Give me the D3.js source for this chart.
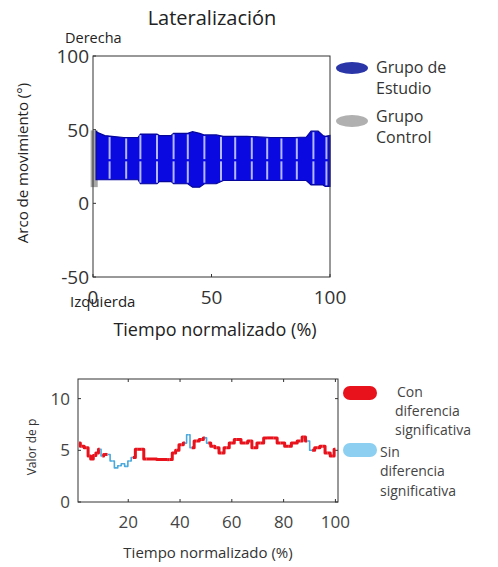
<!DOCTYPE html>
<html>
<head>
<meta charset="utf-8">
<script src="https://cdn.jsdelivr.net/npm/d3@7"></script>
<style>
  body { margin: 0; background: #fff; }
  text { font-family: "Open Sans", "DejaVu Sans", sans-serif; }
</style>
</head>
<body>
<svg id="chart" width="498" height="567"></svg>
<script>
/* --- data: top panel (bands, % of cycle -> degrees) --- */
var bandX     = [1.3, 2, 5, 8, 13, 19, 20, 27, 28, 33, 34, 40, 42, 45, 47, 52, 55, 65, 75, 85, 90, 92, 95, 97, 98, 100];
var studyHigh = [49, 48, 46, 45.5, 44.7, 44.7, 47, 47, 46, 46, 47.5, 47.5, 48.6, 47.5, 46.4, 46.4, 45.5, 45.5, 44.7, 44.7, 45, 49, 49, 46, 45.5, 46];
var studyLow  = [16, 16, 16, 16, 16, 16, 13.3, 13.3, 14.8, 14.8, 13.3, 13.3, 11, 11, 13.3, 13.3, 15.5, 15.5, 15.5, 15.5, 15.5, 12.5, 12.5, 12.5, 11.5, 11.5];
var controlX    = [-1, 2];
var controlHigh = [49.5, 49.5];
var controlLow  = [11, 11];
var gridLines = [7, 14, 20, 27, 34, 40, 47, 54, 60, 67, 73.5, 79.5, 86, 93, 98.5];

/* --- data: bottom panel (p value trace) --- */
var pX   = [1, 2, 4, 5, 6, 7, 8, 9, 10, 11, 12, 14, 15.3, 16.6, 18, 19.2, 20.5, 21.8, 23.7, 25, 27, 35, 36, 38, 38.6, 40.6, 41.9, 43.2, 44.5, 46.4, 48.4, 49.6, 50.9, 52.8, 54.1, 56, 58, 60, 61.9, 65.2, 67.1, 68.4, 71, 73.6, 76.2, 78.8, 82, 84, 86.5, 87.8, 89.1, 91, 93, 95, 97, 99, 100];
var pVal = [5.7, 5.4, 5.25, 4.45, 4.15, 4.5, 4.75, 5.1, 4.45, 4.6, 4.6, 3.96, 3.3, 3.5, 3.7, 3.45, 3.96, 4.3, 5.1, 5.1, 4.15, 4.1, 4.1, 4.75, 5.0, 5.55, 5.7, 6.5, 5.25, 5.9, 6.05, 6.2, 5.7, 5.4, 5.25, 4.75, 5.25, 5.7, 6.05, 5.7, 5.9, 5.25, 5.7, 6.2, 6.2, 5.7, 5.4, 5.7, 5.9, 6.3, 5.9, 5.0, 5.25, 5.4, 4.75, 4.45, 5.1, 5.0];
var pSig = [1, 1, 1, 1, 1, 1, 1, 0, 1, 1, 0, 0, 0, 0, 0, 0, 0, 1, 1, 1, 1, 1, 1, 1, 1, 1, 0, 0, 1, 1, 1, 0, 1, 1, 1, 1, 1, 1, 1, 1, 1, 1, 1, 1, 1, 1, 1, 1, 1, 1, 0, 1, 1, 1, 1, 1, 0, 1];

var topYTicks = [100, 50, 0, -50];
var topXTicks = [0, 50, 100];
var botYTicks = [10, 5, 0];
var botXTicks = [20, 40, 60, 80, 100];

var svg = d3.select("#chart");

/* --- top panel --- */
var x1 = d3.scaleLinear().domain([0, 100]).range([93, 330]);
var y1 = d3.scaleLinear().domain([-50, 100]).range([277, 56]);

svg.append("text").attr("x", 212).attr("y", 25).attr("text-anchor", "middle")
    .attr("font-size", 20).attr("fill", "#222").text("Lateralización");

var area = d3.area().x((d, i) => x1(d[0])).y0(d => y1(d[2])).y1(d => y1(d[1])).curve(d3.curveLinear);

svg.append("path")
    .datum(controlX.map((d, i) => [d, controlHigh[i], controlLow[i]]))
    .attr("d", area).attr("fill", "#a8a8a8");

svg.append("path")
    .datum(bandX.map((d, i) => [d, studyHigh[i], studyLow[i]]))
    .attr("d", area).attr("fill", "#0a0ae0").attr("stroke", "#06069a").attr("stroke-width", 1.2);

// light vertical lines inside the band
var hi = d3.scaleLinear().domain(bandX).range(studyHigh);
var lo = d3.scaleLinear().domain(bandX).range(studyLow);
var gl = svg.append("g").attr("stroke", "#b4b8ff").attr("stroke-width", 2);
gl.selectAll("line.a").data(gridLines).join("line").attr("class", "a")
    .attr("x1", d => x1(d)).attr("x2", d => x1(d))
    .attr("y1", d => y1(hi(d)) + 1).attr("y2", d => y1(30));
gl.selectAll("line.b").data(gridLines).join("line").attr("class", "b")
    .attr("x1", d => x1(d)).attr("x2", d => x1(d))
    .attr("y1", d => y1(28.5)).attr("y2", d => y1(lo(d)) - 1);

svg.append("rect").attr("x", 93).attr("y", 56).attr("width", 237).attr("height", 221)
    .attr("fill", "none").attr("stroke", "#333").attr("stroke-width", 1);

svg.append("g").selectAll("line").data(topYTicks).join("line")
    .attr("x1", 93).attr("x2", 96).attr("y1", d => y1(d)).attr("y2", d => y1(d)).attr("stroke", "#333");
svg.append("g").selectAll("line").data(topXTicks).join("line")
    .attr("y1", 277).attr("y2", 274).attr("x1", d => x1(d)).attr("x2", d => x1(d)).attr("stroke", "#333");

svg.append("g").selectAll("text").data(topYTicks).join("text")
    .attr("x", 89).attr("y", d => y1(d) + 7).attr("text-anchor", "end")
    .attr("font-size", 19).attr("fill", "#333").text(d => d);
svg.append("g").selectAll("text").data(topXTicks).join("text")
    .attr("x", d => x1(d)).attr("y", 304).attr("text-anchor", "middle")
    .attr("font-size", 19).attr("fill", "#333").text(d => d);

svg.append("text").attr("x", 65).attr("y", 43).attr("font-size", 14.5).attr("fill", "#222").text("Derecha");
svg.append("text").attr("x", 70).attr("y", 307).attr("font-size", 15).attr("fill", "#222").text("Izquierda");

svg.append("text").attr("x", 215).attr("y", 336).attr("text-anchor", "middle")
    .attr("font-size", 18).attr("fill", "#222").text("Tiempo normalizado (%)");
svg.append("text").attr("transform", "translate(28,163) rotate(-90)").attr("text-anchor", "middle")
    .attr("font-size", 15).attr("fill", "#222").text("Arco de movimiento (°)");

// top legend
svg.append("ellipse").attr("cx", 352).attr("cy", 68).attr("rx", 16).attr("ry", 6).attr("fill", "#2a36a8");
svg.append("ellipse").attr("cx", 352).attr("cy", 121).attr("rx", 16).attr("ry", 6).attr("fill", "#b0b0b0");
svg.append("g").selectAll("text")
    .data([["Grupo de", 73], ["Estudio", 94], ["Grupo", 122], ["Control", 143]])
    .join("text").attr("x", 376).attr("y", d => d[1]).attr("font-size", 16).attr("fill", "#333").text(d => d[0]);

/* --- bottom panel --- */
var x2 = d3.scaleLinear().domain([0.6, 101]).range([78, 338]);
var y2 = d3.scaleLinear().domain([0, 11.9]).range([502, 379]);

svg.append("rect").attr("x", 78).attr("y", 379).attr("width", 260).attr("height", 123)
    .attr("fill", "none").attr("stroke", "#333").attr("stroke-width", 1);

var tk = svg.append("g").attr("stroke", "#333");
botXTicks.forEach(function (d) {
    tk.append("line").attr("x1", x2(d)).attr("x2", x2(d)).attr("y1", 502).attr("y2", 499);
    tk.append("line").attr("x1", x2(d)).attr("x2", x2(d)).attr("y1", 379).attr("y2", 382);
});
botYTicks.forEach(function (d) {
    tk.append("line").attr("x1", 78).attr("x2", 81).attr("y1", y2(d)).attr("y2", y2(d));
    tk.append("line").attr("x1", 338).attr("x2", 335).attr("y1", y2(d)).attr("y2", y2(d));
});

svg.append("g").selectAll("text").data(botYTicks).join("text")
    .attr("x", 70).attr("y", d => y2(d) + 6).attr("text-anchor", "end")
    .attr("font-size", 17).attr("fill", "#444").text(d => d);
svg.append("g").selectAll("text").data(botXTicks).join("text")
    .attr("x", d => x2(d)).attr("y", 528).attr("text-anchor", "middle")
    .attr("font-size", 17).attr("fill", "#444").text(d => d);

svg.append("text").attr("x", 208).attr("y", 558).attr("text-anchor", "middle")
    .attr("font-size", 15).attr("fill", "#333").text("Tiempo normalizado (%)");
svg.append("text").attr("transform", "translate(36,447) rotate(-90)").attr("text-anchor", "middle")
    .attr("font-size", 12).attr("fill", "#333").text("Valor de p");

// step trace, coloured segment by segment
var segs = [];
for (var i = 0; i < pX.length - 1; i++) {
    segs.push({ a: [pX[i], pVal[i]], b: [pX[i + 1], pVal[i + 1]], sig: pSig[i] });
}
var step = d3.line().x(d => x2(d[0])).y(d => y2(d[1])).curve(d3.curveStep);
svg.append("g").attr("fill", "none").attr("stroke-linejoin", "round")
    .selectAll("path").data(segs).join("path")
    .attr("d", d => step([d.a, d.b]))
    .attr("stroke", d => d.sig ? "#e8121c" : "#4aa8dc")
    .attr("stroke-width", d => d.sig ? 3 : 1.6);

// bottom legend
svg.append("rect").attr("x", 343).attr("y", 386).attr("width", 34).attr("height", 14).attr("rx", 7).attr("fill", "#e8121c");
svg.append("rect").attr("x", 343).attr("y", 443).attr("width", 34).attr("height", 14).attr("rx", 7).attr("fill", "#8ccff0");
svg.append("g").selectAll("text")
    .data([["Con", 397, 397], ["diferencia", 395, 416], ["significativa", 395, 435],
           ["Sin", 380, 457], ["diferencia", 380, 476], ["significativa", 380, 496]])
    .join("text").attr("x", d => d[1]).attr("y", d => d[2]).attr("font-size", 14).attr("fill", "#444").text(d => d[0]);
</script>
</body>
</html>
